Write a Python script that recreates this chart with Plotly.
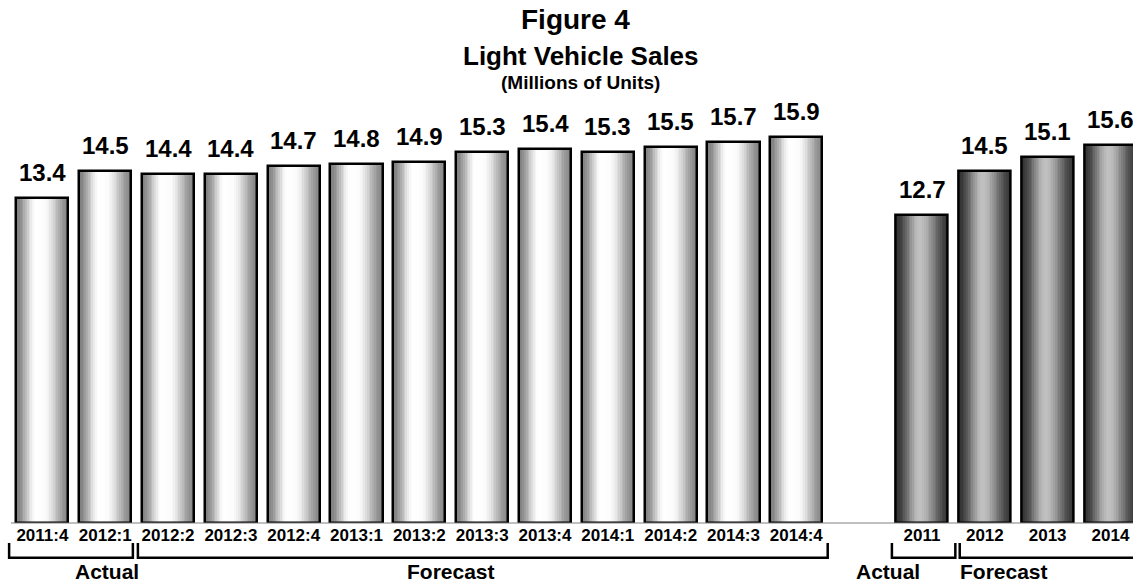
import plotly.graph_objects as go

# ---------------- data ----------------
quarters = ["2011:4", "2012:1", "2012:2", "2012:3", "2012:4", "2013:1", "2013:2",
            "2013:3", "2013:4", "2014:1", "2014:2", "2014:3", "2014:4"]
quarter_sales = [13.4, 14.5, 14.4, 14.4, 14.7, 14.8, 14.9, 15.3, 15.4, 15.3, 15.5, 15.7, 15.9]
years = ["2011", "2012", "2013", "2014"]
year_sales = [12.7, 14.5, 15.1, 15.6]
quarter_labels = [f"{v:.1f}" for v in quarter_sales]
year_labels = [f"{v:.1f}" for v in year_sales]

# ---------------- layout geometry ----------------
W, H = 1133, 583
ML, MR, MT, MB = 11, 0, 10, 60
dom1 = [0.0, 0.7279]
dom2 = [0.784, 1.0]
rng1 = [-0.5, 12.5]
rng2 = [-0.5, 3.359]
yrange = [0, 21.15]
BAR_W = 0.83
FONT = "Liberation Sans, Arial, sans-serif"


def to_paper(cat, dom, rng):
    return dom[0] + (cat - rng[0]) / (rng[1] - rng[0]) * (dom[1] - dom[0])


def interp(stops, t):
    for (t0, c0), (t1, c1) in zip(stops[:-1], stops[1:]):
        if t0 <= t <= t1:
            u = (t - t0) / (t1 - t0)
            u = u * u * (3 - 2 * u)
            return c0 + (c1 - c0) * u
    return stops[-1][1]


light_stops = [(0.0, 128), (0.38, 255), (0.52, 252), (1.0, 136)]
dark_stops = [(0.0, 52), (0.45, 192), (1.0, 56)]

fig = go.Figure()

N = 30
step = BAR_W / N


def add_cylinder(xs, ys, stops, xaxis, yaxis):
    for k in range(N):
        off = -BAR_W / 2 + k * step
        wdt = min(step * 1.7, BAR_W / 2 - off)
        g = int(round(interp(stops, (k + 0.5) / N)))
        fig.add_trace(go.Bar(
            x=xs, y=ys, offset=off, width=wdt,
            marker=dict(color=f"rgb({g},{g},{g})", line=dict(width=0)),
            xaxis=xaxis, yaxis=yaxis, hoverinfo="skip", showlegend=False))
    fig.add_trace(go.Bar(
        x=xs, y=ys, width=BAR_W,
        marker=dict(color="rgba(0,0,0,0)", line=dict(width=2.5, color="black")),
        xaxis=xaxis, yaxis=yaxis, hoverinfo="skip", showlegend=False))


add_cylinder(quarters, quarter_sales, light_stops, "x", "y")
add_cylinder(years, year_sales, dark_stops, "x2", "y2")

annotations = []
for xs, ys, labs, xr, yr in [(quarters, quarter_sales, quarter_labels, "x", "y"),
                             (years, year_sales, year_labels, "x2", "y2")]:
    for i, (yv, lab) in enumerate(zip(ys, labs)):
        annotations.append(dict(x=i, y=yv, xref=xr, yref=yr, text=f"<b>{lab}</b>",
                                showarrow=False, yanchor="bottom", yshift=10,
                                font=dict(family=FONT, size=24, color="black")))

# titles
annotations += [
    dict(x=0.5027, y=0.982, xref="paper", yref="paper", text="<b>Figure 4</b>",
         showarrow=False, yanchor="middle", font=dict(family=FONT, size=28, color="black")),
    dict(x=0.508, y=0.910, xref="paper", yref="paper", text="<b>Light Vehicle Sales</b>",
         showarrow=False, yanchor="middle", font=dict(family=FONT, size=26, color="black")),
    dict(x=0.508, y=0.858, xref="paper", yref="paper", text="<b>(Millions of Units)</b>",
         showarrow=False, yanchor="middle", font=dict(family=FONT, size=19, color="black")),
]

# bracket labels
y_lab = -0.095
for cat, txt, dom, rng in [(0.49, "Actual", dom1, rng1), (6.5, "Forecast", dom1, rng1),
                           (0.0, "Actual", dom2, rng2), (2.04, "Forecast", dom2, rng2)]:
    annotations.append(dict(x=to_paper(cat, dom, rng), y=y_lab, xref="paper", yref="paper",
                            text=f"<b>{txt}</b>", showarrow=False, yanchor="middle",
                            font=dict(family=FONT, size=21, color="black")))

# brackets
y_top, y_bot = -0.039, -0.0676
shapes = [dict(type="line", xref="paper", yref="paper", x0=0, x1=1, y0=0, y1=0,
               line=dict(color="#808080", width=1))]
for a, b, dom, rng, right_end in [(-0.53, 1.44, dom1, rng1, True), (1.52, 12.5, dom1, rng1, True),
                                  (-0.48, 0.53, dom2, rng2, True), (0.6, 4.0, dom2, rng2, False)]:
    xa, xb = to_paper(a, dom, rng), to_paper(b, dom, rng)
    path = f"M {xa},{y_top} L {xa},{y_bot} L {xb},{y_bot}"
    if right_end:
        path += f" L {xb},{y_top}"
    shapes.append(dict(type="path", xref="paper", yref="paper", path=path,
                       line=dict(color="black", width=2.5)))

axis_common = dict(showgrid=False, zeroline=False, showline=False, ticks="",
                   tickfont=dict(family=FONT, size=17, color="black"), fixedrange=True)
yaxis_common = dict(range=yrange, showgrid=False, zeroline=False, showline=False,
                    showticklabels=False, ticks="", fixedrange=True)

fig.update_layout(
    width=W, height=H,
    margin=dict(l=ML, r=MR, t=MT, b=MB),
    paper_bgcolor="white", plot_bgcolor="white",
    barmode="overlay", bargap=0,
    showlegend=False,
    xaxis=dict(domain=dom1, range=rng1, type="category",
               tickvals=quarters, ticktext=[f"<b>{q}</b>" for q in quarters], **axis_common),
    xaxis2=dict(domain=dom2, range=rng2, type="category", anchor="y2",
                tickvals=years, ticktext=[f"<b>{y}</b>" for y in years], **axis_common),
    yaxis=dict(domain=[0, 1], anchor="x", **yaxis_common),
    yaxis2=dict(domain=[0, 1], anchor="x2", **yaxis_common),
    annotations=annotations,
    shapes=shapes,
)

fig.write_html("out.html", config={"displayModeBar": False},
               post_script="document.body.style.margin='0';document.body.style.overflow='hidden';")
